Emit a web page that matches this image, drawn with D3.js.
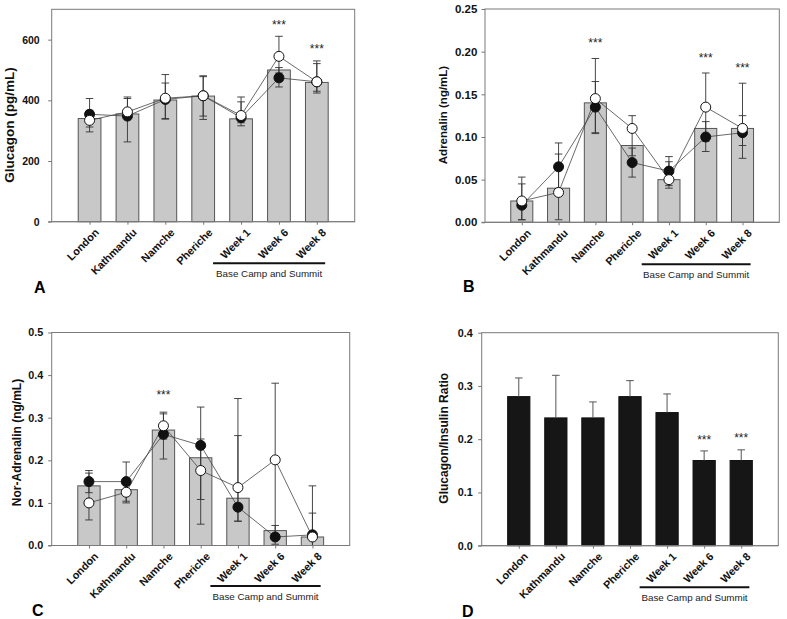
<!DOCTYPE html>
<html><head><meta charset="utf-8">
<script src="https://cdn.jsdelivr.net/npm/d3@7"></script>
<style>
body{margin:0;background:#fff;}
svg{display:block;font-family:"Liberation Sans",Arial,Helvetica,sans-serif;}
</style></head><body>
<svg id="chart" width="787" height="619"></svg>
<script>
// ---------- DATA ----------
const categories = ["London", "Kathmandu", "Namche", "Pheriche", "Week 1", "Week 6", "Week 8"];

// Panel A: Glucagon (pg/mL)
const glucagonTicks = [0, 200, 400, 600];
const glucagonBar = [340, 355, 401, 414, 339, 500, 459];
const glucagonFilled = [354, 348, 403, 415, 343, 474, 461];
const glucagonFilledHi = [406, 406, 457, 478, 395, 508, 521];
const glucagonFilledLo = [312, 263, 338, 348, 316, 444, 424];
const glucagonOpen = [334, 362, 407, 415, 350, 545, 461];
const glucagonOpenHi = [367, 411, 485, 481, 411, 611, 530];
const glucagonOpenLo = [296, 340, 340, 337, 326, 490, 430];
const glucagonStars = [false, false, false, false, false, true, true];

// Panel B: Adrenalin (ng/mL)
const adrenTicks = [0, 0.05, 0.10, 0.15, 0.20, 0.25];
const adrenBar = [0.025, 0.040, 0.140, 0.090, 0.050, 0.110, 0.110];
const adrenFilled = [0.020, 0.065, 0.135, 0.070, 0.060, 0.100, 0.105];
const adrenFilledHi = [0.045, 0.093, 0.165, 0.087, 0.077, 0.118, 0.125];
const adrenFilledLo = [0.003, 0.037, 0.105, 0.053, 0.043, 0.083, 0.090];
const adrenOpen = [0.025, 0.035, 0.145, 0.110, 0.050, 0.135, 0.110];
const adrenOpenHi = [0.053, 0.080, 0.192, 0.125, 0.071, 0.175, 0.163];
const adrenOpenLo = [0.003, 0.003, 0.104, 0.078, 0.040, 0.095, 0.075];
const adrenStars = [false, false, true, false, false, true, true];

// Panel C: Nor-Adrenalin (ng/mL)
const noradTicks = [0, 0.1, 0.2, 0.3, 0.4, 0.5];
const noradBar = [0.140, 0.131, 0.271, 0.206, 0.111, 0.035, 0.020];
const noradFilled = [0.150, 0.150, 0.261, 0.235, 0.090, 0.020, 0.025];
const noradFilledHi = [0.176, 0.196, 0.309, 0.325, 0.258, 0.047, 0.076];
const noradFilledLo = [0.124, 0.104, 0.203, 0.050, 0.057, 0.003, 0.000];
const noradOpen = [0.100, 0.125, 0.281, 0.176, 0.136, 0.201, 0.020];
const noradOpenHi = [0.170, 0.150, 0.313, 0.250, 0.345, 0.381, 0.140];
const noradOpenLo = [0.060, 0.100, 0.250, 0.108, 0.057, 0.020, 0.000];
const noradStars = [false, false, true, false, false, false, false];

// Panel D: Glucagon/Insulin Ratio
const ratioTicks = [0, 0.1, 0.2, 0.3, 0.4];
const ratioBar = [0.28, 0.24, 0.24, 0.28, 0.25, 0.16, 0.16];
const ratioHi = [0.315, 0.320, 0.270, 0.310, 0.285, 0.178, 0.180];
const ratioStars = [false, false, false, false, false, true, true];

// ---------- DRAW ----------
const svg = d3.select("#chart");

function drawPanel(p) {
  const x = d3.scaleLinear().domain([0, 8]).range([p.left, p.right]);
  const y = d3.scaleLinear().domain([0, p.yMax]).range([p.bottom, p.top]);
  const g = svg.append("g");
  const step = x(1) - x(0);
  const bw = step * 0.6;
  const cap = 3.8;

  // bars
  g.append("g").selectAll("rect").data(p.bars).join("rect")
    .attr("x", (d, i) => x(i + 1) - bw / 2)
    .attr("y", d => y(d))
    .attr("width", bw)
    .attr("height", d => y(0) - y(d))
    .attr("fill", p.barFill)
    .attr("stroke", p.barStroke)
    .attr("stroke-width", 1);

  // bar-only error bars (panel D)
  if (p.barHi) {
    const eb = g.append("g").attr("stroke", "#555").attr("stroke-width", 1);
    p.barHi.forEach((h, i) => {
      eb.append("line").attr("x1", x(i + 1)).attr("x2", x(i + 1)).attr("y1", y(p.bars[i])).attr("y2", y(h));
      eb.append("line").attr("x1", x(i + 1) - cap).attr("x2", x(i + 1) + cap).attr("y1", y(h)).attr("y2", y(h));
    });
  }

  // frame
  g.append("rect").attr("x", p.left).attr("y", p.top)
    .attr("width", p.right - p.left).attr("height", p.bottom - p.top)
    .attr("fill", "none").attr("stroke", "#7a7a7a").attr("stroke-width", 1);

  const series = p.series || [];
  // error bars for series
  series.forEach(s => {
    const eb = g.append("g").attr("stroke", "#333").attr("stroke-width", 0.9);
    s.vals.forEach((v, i) => {
      const cx = x(i + 1);
      eb.append("line").attr("x1", cx).attr("x2", cx).attr("y1", y(s.hi[i])).attr("y2", y(s.lo[i]));
      [s.hi[i], s.lo[i]].forEach(e => {
        eb.append("line").attr("x1", cx - cap).attr("x2", cx + cap).attr("y1", y(e)).attr("y2", y(e));
      });
    });
  });
  // connecting lines
  series.forEach(s => {
    g.append("path").datum(s.vals)
      .attr("d", d3.line().x((d, i) => x(i + 1)).y(d => y(d)))
      .attr("fill", "none").attr("stroke", "#444").attr("stroke-width", 0.8);
  });
  // markers
  series.forEach(s => {
    g.append("g").selectAll("circle").data(s.vals).join("circle")
      .attr("cx", (d, i) => x(i + 1)).attr("cy", d => y(d)).attr("r", 5)
      .attr("fill", s.fill).attr("stroke", "#111").attr("stroke-width", 1);
  });

  // stars
  p.stars.forEach((st, i) => {
    if (!st) return;
    let top = p.barHi ? p.barHi[i] : d3.max(series, s => s.hi[i]);
    g.append("text").attr("x", x(i + 1)).attr("y", y(top) - p.starOff)
      .attr("text-anchor", "middle").attr("font-size", 12).attr("fill", "#222")
      .attr("dy", "0.55em").text("***");
  });

  // y axis
  const yAxis = d3.axisLeft(y).tickValues(p.yTicks).tickSize(3.5).tickPadding(p.tickPad)
    .tickFormat(d3.format(p.fmt));
  const ya = g.append("g").attr("transform", `translate(${p.left},0)`).call(yAxis);
  ya.select(".domain").remove();
  ya.selectAll("line").attr("stroke", "#777");
  ya.selectAll("text").attr("font-size", p.tickSize).attr("font-weight", "bold").attr("fill", "#111");

  // x axis
  const xAxis = d3.axisBottom(x).tickValues(d3.range(1, 8)).tickSize(3)
    .tickFormat(i => categories[i - 1]);
  const xa = g.append("g").attr("transform", `translate(0,${p.bottom})`).call(xAxis);
  xa.select(".domain").attr("d", `M${p.left - 3.5},0H${p.right}`).attr("stroke", "#7a7a7a");
  xa.selectAll("line").attr("stroke", "#777");
  xa.selectAll("text").attr("font-size", 10.8).attr("font-weight", "bold").attr("fill", "#111")
    .attr("text-anchor", "end").attr("x", 0).attr("y", 0).attr("dy", "0.72em")
    .attr("transform", "translate(4,6) rotate(-45)");

  // y title
  g.append("text")
    .attr("transform", `translate(${p.titleX},${p.titleY}) rotate(-90)`)
    .attr("text-anchor", "middle").attr("dy", "0.35em")
    .attr("font-size", p.titleSize).attr("font-weight", "bold").attr("fill", "#111")
    .text(p.title);

  // base camp and summit bracket
  const lx1 = x(5) - 0.74 * step, lx2 = x(7) + 0.22 * step;
  const ly = p.bottom + p.bcDy;
  g.append("line").attr("x1", lx1).attr("x2", lx2).attr("y1", ly).attr("y2", ly)
    .attr("stroke", "#111").attr("stroke-width", 2);
  g.append("text").attr("x", (lx1 + lx2) / 2).attr("y", ly + 14)
    .attr("text-anchor", "middle").attr("font-size", 9.8).attr("fill", "#222")
    .text("Base Camp and Summit");

  // panel letter
  g.append("text").attr("x", p.letterX).attr("y", p.letterY)
    .attr("font-size", 16).attr("font-weight", "bold").attr("fill", "#000")
    .text(p.letter);
}

drawPanel({
  left: 51.7, right: 354.7, top: 9.3, bottom: 221.7, yMax: 700,
  yTicks: glucagonTicks, fmt: "d", tickSize: 10.5, tickPad: 8.5,
  bars: glucagonBar, barFill: "#c8c8c8", barStroke: "#555",
  series: [
    { vals: glucagonFilled, hi: glucagonFilledHi, lo: glucagonFilledLo, fill: "#111" },
    { vals: glucagonOpen, hi: glucagonOpenHi, lo: glucagonOpenLo, fill: "#fff" }
  ],
  stars: glucagonStars, starOff: 14,
  title: "Glucagon (pg/mL)", titleSize: 13.5, titleX: 9.5, titleY: 125,
  bcDy: 41.6, letter: "A", letterX: 34, letterY: 293
});

drawPanel({
  left: 485, right: 779.3, top: 9, bottom: 222.3, yMax: 0.25,
  yTicks: adrenTicks, fmt: ".2f", tickSize: 11.5, tickPad: 4.2,
  bars: adrenBar, barFill: "#c8c8c8", barStroke: "#555",
  series: [
    { vals: adrenFilled, hi: adrenFilledHi, lo: adrenFilledLo, fill: "#111" },
    { vals: adrenOpen, hi: adrenOpenHi, lo: adrenOpenLo, fill: "#fff" }
  ],
  stars: adrenStars, starOff: 18,
  title: "Adrenalin (ng/mL)", titleSize: 11.5, titleX: 442.5, titleY: 115,
  bcDy: 42, letter: "B", letterX: 463, letterY: 292
});

drawPanel({
  left: 51.7, right: 349.7, top: 332.5, bottom: 545.5, yMax: 0.5,
  yTicks: noradTicks, fmt: ".1f", tickSize: 10.8, tickPad: 5,
  bars: noradBar, barFill: "#c8c8c8", barStroke: "#555",
  series: [
    { vals: noradFilled, hi: noradFilledHi, lo: noradFilledLo, fill: "#111" },
    { vals: noradOpen, hi: noradOpenHi, lo: noradOpenLo, fill: "#fff" }
  ],
  stars: noradStars, starOff: 20,
  title: "Nor-Adrenalin (ng/mL)", titleSize: 12, titleX: 16.7, titleY: 442.5,
  bcDy: 40.5, letter: "C", letterX: 32, letterY: 616
});

drawPanel({
  left: 481.7, right: 778.3, top: 332.7, bottom: 545.7, yMax: 0.4,
  yTicks: ratioTicks, fmt: ".1f", tickSize: 10.8, tickPad: 5.5,
  bars: ratioBar, barFill: "#161616", barStroke: "#111",
  barHi: ratioHi,
  stars: ratioStars, starOff: 14,
  title: "Glucagon/Insulin Ratio", titleSize: 12, titleX: 443.5, titleY: 438.3,
  bcDy: 41.6, letter: "D", letterX: 462, letterY: 617
});
</script>
</body></html>
